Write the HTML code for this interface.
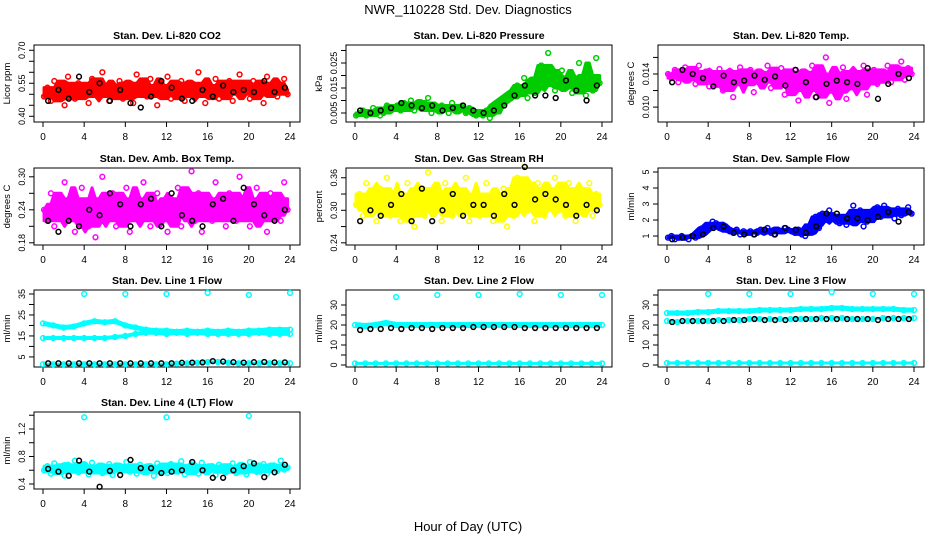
<!DOCTYPE html>
<html><head><meta charset="utf-8"><style>
body{margin:0;background:#fff}
svg{display:block;font-family:"Liberation Sans",sans-serif}
</style></head><body>
<svg id="c" width="936" height="540" viewBox="0 0 936 540">
<text x="468" y="14" text-anchor="middle" font-size="13">NWR_110228 Std. Dev. Diagnostics</text>
<text x="468" y="531" text-anchor="middle" font-size="13">Hour of Day (UTC)</text>
</svg>
<script>
// ---- data ----
const hours = [0,4,8,12,16,20,24];
const co2 = [0.49,0.53,0.47,0.56,0.50,0.52,0.45,0.58,0.51,0.48,0.55,0.50,0.53,0.46,0.57,0.52,0.49,0.60,0.51,0.47,0.54,0.50,0.56,0.48,0.52,0.55,0.46,0.59,0.50,0.53,0.49,0.57,0.52,0.45,0.54,0.51,0.58,0.48,0.53,0.50,0.56,0.47,0.52,0.55,0.49,0.60,0.51,0.46,0.54,0.50,0.57,0.48,0.53,0.51,0.56,0.47,0.52,0.59,0.50,0.54,0.48,0.56,0.51,0.53,0.46,0.58,0.50,0.55,0.49,0.52,0.57,0.50];
const co2Black = [0.47,0.52,0.48,0.58,0.51,0.55,0.47,0.52,0.46,0.44,0.49,0.56,0.53,0.48,0.47,0.52,0.49,0.54,0.51,0.52,0.51,0.56,0.51,0.53];
const pressure = [0.004,0.005,0.006,0.004,0.005,0.007,0.006,0.004,0.005,0.008,0.006,0.007,0.008,0.006,0.009,0.007,0.010,0.006,0.008,0.007,0.009,0.011,0.005,0.008,0.006,0.008,0.007,0.005,0.009,0.007,0.006,0.008,0.005,0.007,0.006,0.004,0.005,0.004,0.006,0.003,0.005,0.008,0.009,0.011,0.010,0.013,0.012,0.016,0.014,0.019,0.011,0.015,0.013,0.018,0.024,0.016,0.029,0.020,0.014,0.017,0.022,0.015,0.019,0.013,0.018,0.025,0.016,0.012,0.020,0.014,0.027,0.017];
const pressureBlack = [0.006,0.005,0.006,0.007,0.009,0.008,0.007,0.008,0.006,0.007,0.008,0.006,0.005,0.006,0.008,0.012,0.016,0.012,0.012,0.011,0.018,0.014,0.010,0.016];
const liTemp = [0.0140,0.0135,0.0145,0.0130,0.0138,0.0148,0.0133,0.0142,0.0128,0.0150,0.0137,0.0143,0.0125,0.0140,0.0132,0.0146,0.0120,0.0138,0.0143,0.0112,0.0135,0.0148,0.0127,0.0140,0.0145,0.0118,0.0137,0.0142,0.0130,0.0150,0.0123,0.0140,0.0133,0.0147,0.0115,0.0138,0.0128,0.0145,0.0108,0.0135,0.0142,0.0120,0.0150,0.0112,0.0138,0.0125,0.0160,0.0105,0.0140,0.0118,0.0135,0.0148,0.0110,0.0130,0.0143,0.0122,0.0138,0.0150,0.0115,0.0133,0.0145,0.0128,0.0140,0.0135,0.0150,0.0130,0.0142,0.0138,0.0155,0.0133,0.0147,0.0140];
const liTempBlack = [0.0130,0.0145,0.0140,0.0135,0.0125,0.0138,0.0130,0.0132,0.0138,0.0133,0.0137,0.0126,0.0145,0.0130,0.0112,0.0128,0.0132,0.0130,0.0128,0.0147,0.0110,0.0128,0.0140,0.0135];
const ambTemp = [0.24,0.22,0.27,0.21,0.25,0.23,0.29,0.22,0.26,0.20,0.24,0.28,0.23,0.21,0.26,0.19,0.25,0.30,0.22,0.24,0.27,0.21,0.25,0.23,0.28,0.20,0.24,0.26,0.22,0.29,0.23,0.21,0.25,0.27,0.22,0.24,0.20,0.26,0.23,0.28,0.21,0.25,0.24,0.31,0.22,0.27,0.20,0.24,0.26,0.22,0.29,0.23,0.25,0.21,0.27,0.24,0.22,0.30,0.23,0.26,0.21,0.25,0.28,0.22,0.24,0.20,0.27,0.23,0.26,0.22,0.29,0.24];
const ambTempBlack = [0.22,0.20,0.22,0.21,0.24,0.23,0.27,0.25,0.21,0.25,0.26,0.21,0.27,0.23,0.22,0.21,0.25,0.26,0.22,0.28,0.25,0.23,0.22,0.24];
const rh = [0.31,0.33,0.29,0.35,0.30,0.32,0.28,0.34,0.31,0.36,0.29,0.32,0.33,0.28,0.31,0.35,0.30,0.27,0.32,0.34,0.29,0.37,0.31,0.30,0.33,0.28,0.35,0.31,0.29,0.34,0.32,0.30,0.36,0.28,0.31,0.33,0.29,0.32,0.35,0.30,0.28,0.33,0.31,0.34,0.27,0.32,0.29,0.36,0.31,0.38,0.30,0.33,0.28,0.35,0.32,0.29,0.34,0.31,0.36,0.30,0.33,0.29,0.35,0.31,0.28,0.34,0.32,0.30,0.35,0.29,0.33,0.31];
const rhBlack = [0.28,0.30,0.29,0.31,0.33,0.28,0.34,0.28,0.30,0.33,0.29,0.31,0.31,0.29,0.33,0.31,0.38,0.32,0.33,0.32,0.31,0.29,0.31,0.30];
const sampleFlow = [0.9,1.0,0.8,0.9,1.0,0.9,0.8,1.0,0.9,1.1,1.3,1.5,1.6,1.9,1.8,1.5,1.7,1.4,1.3,1.2,1.4,1.1,1.3,1.2,1.3,1.1,1.2,1.4,1.3,1.5,1.2,1.1,1.4,1.3,1.5,1.4,1.3,1.2,1.4,1.1,1.0,1.2,1.7,2.2,1.5,2.4,2.0,2.6,2.3,2.1,1.8,2.0,1.7,2.1,2.9,2.3,2.6,1.6,1.9,2.2,2.5,2.8,2.2,2.9,2.6,2.4,2.1,2.7,2.3,2.5,2.8,2.4];
const sampleFlowBlack = [0.8,0.9,1.0,1.1,1.5,1.6,1.2,1.1,1.1,1.4,1.1,1.5,1.4,1.2,1.6,2.4,2.4,2.1,2.1,2.0,2.2,2.5,1.9,2.5];
const line4 = [0.60,0.66,0.55,0.70,0.58,0.64,0.52,0.68,0.61,0.74,0.57,0.63,0.66,0.54,0.71,0.60,0.65,0.56,0.62,0.69,0.53,0.67,0.59,0.64,0.72,0.58,0.63,0.55,0.68,0.61,0.57,0.66,0.52,0.70,0.60,0.64,0.56,0.69,0.62,0.58,0.73,0.54,0.65,0.60,0.67,0.55,0.71,0.63,0.59,0.66,0.53,0.68,0.61,0.57,0.64,0.70,0.56,0.62,0.66,0.54,0.72,0.60,0.65,0.58,0.69,0.55,0.63,0.67,0.59,0.74,0.61,0.64];
const line4Black = [0.62,0.58,0.52,0.74,0.58,0.36,0.59,0.53,0.75,0.63,0.63,0.56,0.58,0.60,0.72,0.60,0.49,0.49,0.60,0.66,0.70,0.50,0.57,0.68];
const line4Outliers = [1.37,1.37,1.39];
const line1Upper = [21,20,19,19.5,21,22,21.5,22,20,19,18,17.5,17.5,17,17.5,17,17.5,17,17.5,17,17.5,17.5,18,18,18];
const line1Lower = [14,14,14,14,14,14,14,14.5,15,16,16.5,16.5,16,16.5,16,16.5,16,16,16,16,16,16.5,16,16,16];
const line1Bottom = [1.5,1.5,1.5,1.5,1.5,1.5,1.5,1.5,1.5,1.5,1.5,1.5,1.5,1.8,2,2.2,2.6,2.6,2.2,2,2,2,2,2,2];
const line1Black = [2,2,2,2,2,2,2,2,2,2,2,2,2,2.2,2.3,2.4,3,2.8,2.5,2.3,2.5,2.6,2.4,2.4];
const line1Outliers = [35,35,35,35.5,34.5,35.5];
const line2Upper = [20,19.5,20,21,20,20,20,20,20,20,20,20,20,20,20,20,20,20,20,20,20,20,20,20,20];
const line2Bottom = [0.8,0.8,0.8,0.8,0.8,0.8,0.8,0.8,0.8,0.8,0.8,0.8,0.8,0.8,0.8,0.8,0.8,0.8,0.8,0.8,0.8,0.8,0.8,0.8,0.8];
const line2Black = [17.5,18,18,18.5,18,18.5,18.5,18,18.5,18.5,18.5,19,19,19,19,19,18.5,18.5,18.5,18.5,18.5,18.5,18.5,18.5];
const line2Outliers = [34,35,35,35.5,35,35];
const line3Upper = [26,26,26,26.5,26.5,27,27,27,27,27.5,27.5,27.5,27.5,28,28,28,28.5,28.5,28,28,28,28,28,27.5,27.5];
const line3Middle = [22,21.5,22,22,22,22.5,22.5,22.5,23,23,23,23,23,23,23,23.5,23.5,23.5,23,23,23,23.5,23.5,23.5,23.5];
const line3Bottom = [1,1,1,1,1,1,1,1,1,1,1,1,1,1,1,1,1,1,1,1,1,1,1,1,1];
const line3Black = [21.5,22,22,22,22,22,22.5,22.5,23,22.5,22.5,22.5,23,23,23,23,23,23,23,23,22.5,23,23,23];
const line3Outliers = [35.5,35.5,35.5,36.5,35.5,35.5];

// ---- layout / drawing ----
const NS = "http://www.w3.org/2000/svg";
const svg = document.getElementById('c');
const boxTops = [45,168,290,412];
function mk(tag, attrs, parent){const e=document.createElementNS(NS,tag);for(const k in attrs)e.setAttribute(k,attrs[k]);(parent||svg).appendChild(e);return e;}

function panel(cfg){
  const g = mk('g',{});
  
  
  const bx = 34 + cfg.col*312, bw = 266, by = boxTops[cfg.row], bh = 77;
  const x0 = bx + 9;
  const xs = t => x0 + t*247/24;
  const ys = v => by + bh - (v - cfg.ymin)/(cfg.ymax - cfg.ymin)*bh;
  const title = mk('text',{x:bx+bw/2,y:by-6,'text-anchor':'middle','font-size':10.5,'font-weight':'bold'},g);
  title.textContent = cfg.title;
  
  
  const box = mk('rect',{x:bx,y:by,width:bw,height:bh,fill:'none',stroke:'#000','stroke-width':1},g);
  
  
  mk('line',{x1:xs(0),x2:xs(24),y1:by+bh,y2:by+bh,stroke:'#000'},g);
  hours.forEach(h=>{
    mk('line',{x1:xs(h),x2:xs(h),y1:by+bh,y2:by+bh+5,stroke:'#000'},g);
    const t = mk('text',{x:xs(h),y:by+bh+18,'text-anchor':'middle','font-size':10},g);
    t.textContent = h;
    
    
  });
  cfg.ticks.forEach((v,i)=>{
    const y = ys(v);
    mk('line',{x1:bx-5,x2:bx,y1:y,y2:y,stroke:'#000'},g);
    if(cfg.labels[i]){
      const t = mk('text',{x:bx-9,y:y,'text-anchor':'middle','font-size':9,transform:`rotate(-90 ${bx-9} ${y})`},g);
      t.textContent = cfg.labels[i];
      
      
    }
  });
  const yl = mk('text',{x:bx-24,y:by+bh/2,'text-anchor':'middle','font-size':9.5,transform:`rotate(-90 ${bx-24} ${by+bh/2})`},g);
  yl.textContent = cfg.ylab;
  
  
  return {g,xs,ys};
}
function pt(p,t,v,col,name){
  const c = mk('circle',{cx:p.xs(t),cy:p.ys(v),r:2.4,fill:'none',stroke:col,'stroke-width':1.5},p.g);
  
  
}
// dense core of the cloud: rolling 2nd-lowest / 2nd-highest of the values
function core(p,arr,col){
  const lo=[],hi=[];
  arr.forEach((v,i)=>{
    const w = arr.slice(Math.max(0,i-3),Math.min(arr.length,i+4)).slice().sort((a,b)=>a-b);
    lo.push(w[1]); hi.push(w[w.length-2]);
  });
  const top = hi.map((v,i)=>p.xs(i/3+0.1)+','+p.ys(v));
  const bot = lo.map((v,i)=>p.xs(i/3+0.1)+','+p.ys(v)).reverse();
  const poly = mk('polygon',{points:top.concat(bot).join(' '),fill:col,stroke:col,'stroke-width':3,'stroke-linejoin':'round'},p.g);
  
  
}
function cloud(p,arr,col){core(p,arr,col);arr.forEach((v,i)=>pt(p,i/3+0.1,v,col,'point'));}
function blacks(p,arr){arr.forEach((v,i)=>pt(p,i+0.5,v,'#000','black-point'));}
function band(p,arr,col,w){
  const pts = arr.map((v,i)=>p.xs(i)+','+p.ys(v)).join(' ');
  const l = mk('polyline',{points:pts,fill:'none',stroke:col,'stroke-width':w,'stroke-linejoin':'round'},p.g);
  
  
  arr.forEach((v,i)=>pt(p,i,v,col,'point'));
}
function outl(p,arr,col){arr.forEach((v,i)=>pt(p,hours[i+1],v,col,'outlier-point'));}

const RED='#ff0000',GRN='#00cc00',MAG='#ff00ff',YEL='#ffff00',BLU='#0000ff',CYN='#00ffff';

let p;
p = panel({name:'panel-co2',col:0,row:0,title:'Stan. Dev. Li-820 CO2',ylab:'Licor ppm',ymin:0.374,ymax:0.724,ticks:[0.40,0.45,0.50,0.55,0.60,0.65,0.70],labels:['0.40','','','0.55','','','0.70']});
cloud(p,co2,RED); blacks(p,co2Black);
p = panel({name:'panel-pressure',col:1,row:0,title:'Stan. Dev. Li-820 Pressure',ylab:'kPa',ymin:0.0014,ymax:0.0322,ticks:[0.005,0.010,0.015,0.020,0.025,0.030],labels:['0.005','','0.015','','0.025','']});
cloud(p,pressure,GRN); blacks(p,pressureBlack);
p = panel({name:'panel-li820-temp',col:2,row:0,title:'Stan. Dev. Li-820 Temp.',ylab:'degrees C',ymin:0.0082,ymax:0.0175,ticks:[0.010,0.012,0.014,0.016],labels:['0.010','','0.014','']});
cloud(p,liTemp,MAG); blacks(p,liTempBlack);
p = panel({name:'panel-amb-temp',col:0,row:1,title:'Stan. Dev. Amb. Box Temp.',ylab:'degrees C',ymin:0.176,ymax:0.316,ticks:[0.18,0.21,0.24,0.27,0.30],labels:['0.18','','0.24','','0.30']});
cloud(p,ambTemp,MAG); blacks(p,ambTempBlack);
p = panel({name:'panel-rh',col:1,row:1,title:'Stan. Dev. Gas Stream RH',ylab:'percent',ymin:0.236,ymax:0.378,ticks:[0.24,0.27,0.30,0.33,0.36],labels:['0.24','','0.30','','0.36']});
cloud(p,rh,YEL); blacks(p,rhBlack);
p = panel({name:'panel-sample-flow',col:2,row:1,title:'Stan. Dev. Sample Flow',ylab:'ml/min',ymin:0.44,ymax:5.25,ticks:[1,2,3,4,5],labels:['1','2','3','4','5']});
cloud(p,sampleFlow,BLU); blacks(p,sampleFlowBlack);
p = panel({name:'panel-line1',col:0,row:2,title:'Stan. Dev. Line 1 Flow',ylab:'ml/min',ymin:0.2,ymax:36.9,ticks:[5,10,15,20,25,30,35],labels:['5','','15','','25','','35']});
band(p,line1Upper,CYN,5); band(p,line1Lower,CYN,4); band(p,line1Bottom,CYN,3); blacks(p,line1Black); outl(p,line1Outliers,CYN);
p = panel({name:'panel-line2',col:1,row:2,title:'Stan. Dev. Line 2 Flow',ylab:'ml/min',ymin:-1,ymax:37.5,ticks:[0,5,10,15,20,25,30],labels:['0','','10','','20','','30']});
band(p,line2Upper,CYN,6); band(p,line2Bottom,CYN,3); blacks(p,line2Black); outl(p,line2Outliers,CYN);
p = panel({name:'panel-line3',col:2,row:2,title:'Stan. Dev. Line 3 Flow',ylab:'ml/min',ymin:-1,ymax:37.5,ticks:[0,5,10,15,20,25,30,35],labels:['0','','10','','20','','30','']});
band(p,line3Upper,CYN,5); band(p,line3Middle,CYN,3); band(p,line3Bottom,CYN,3); blacks(p,line3Black); outl(p,line3Outliers,CYN);
p = panel({name:'panel-line4',col:0,row:3,title:'Stan. Dev. Line 4 (LT) Flow',ylab:'ml/min',ymin:0.327,ymax:1.447,ticks:[0.4,0.6,0.8,1.0,1.2,1.4],labels:['0.4','','0.8','','1.2','']});
cloud(p,line4,CYN); blacks(p,line4Black); line4Outliers.forEach((v,i)=>pt(p,hours[i*2+1],v,CYN,'outlier-point'));
</script>
</body></html>
